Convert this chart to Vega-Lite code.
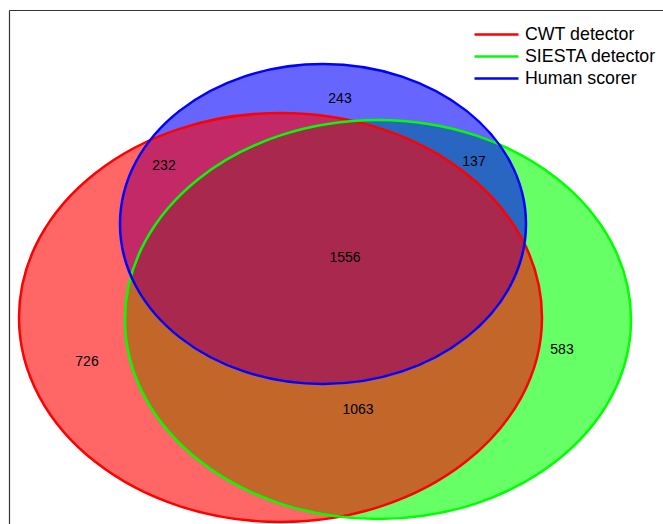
{
  "$schema": "https://vega.github.io/schema/vega-lite/v6.json",
  "width": 654,
  "height": 514,
  "autosize": {"type": "none"},
  "padding": {"left": 9, "top": 10, "right": 0, "bottom": 0},
  "background": "white",
  "view": {"stroke": null},
  "datasets": {
    "sets": [
      {"set": "CWT detector", "cx": 280.5, "cy": 317.5},
      {"set": "SIESTA detector", "cx": 378, "cy": 319.5},
      {"set": "Human scorer", "cx": 323, "cy": 224}
    ],
    "labels": [
      {"count": "243", "x": 340, "y": 99},
      {"count": "232", "x": 164, "y": 166},
      {"count": "137", "x": 474, "y": 162},
      {"count": "1556", "x": 345, "y": 258},
      {"count": "726", "x": 87, "y": 362},
      {"count": "583", "x": 562, "y": 350},
      {"count": "1063", "x": 358, "y": 410}
    ]
  },
  "config": {
    "font": "Liberation Sans",
    "legend": {
      "orient": "none",
      "legendX": 475,
      "legendY": 12,
      "title": null,
      "symbolType": "M -2 0 L 2 0",
      "symbolSize": 484,
      "symbolStrokeWidth": 2.5,
      "labelFont": "Liberation Sans",
      "labelFontSize": 17.8,
      "labelColor": "#000000",
      "labelOffset": 16,
      "rowPadding": 0
    }
  },
  "layer": [
    {
      "data": {"name": "sets"},
      "transform": [{"filter": "datum.set === 'SIESTA detector'"}],
      "mark": {
        "type": "point",
        "shape": "M -1 0 C -1 -0.4355 -0.5523 -0.7885 0 -0.7885 C 0.5523 -0.7885 1 -0.4355 1 0 C 1 0.4355 0.5523 0.7885 0 0.7885 C -0.5523 0.7885 -1 0.4355 -1 0 Z",
        "size": 256036,
        "filled": true,
        "fill": "#00ff00",
        "fillOpacity": 0.6,
        "opacity": 1,
        "strokeWidth": 0
      },
      "encoding": {
        "x": {"field": "cx", "type": "quantitative", "scale": {"domain": [9, 663], "nice": false, "zero": false}, "axis": {"orient": "top", "domain": true, "domainColor": "#333333", "domainWidth": 1.2, "ticks": false, "labels": false, "grid": false, "title": null}},
        "y": {"field": "cy", "type": "quantitative", "scale": {"domain": [10, 524], "nice": false, "zero": false, "reverse": true}, "axis": {"orient": "left", "domain": true, "domainColor": "#333333", "domainWidth": 1.2, "ticks": false, "labels": false, "grid": false, "title": null}}
      }
    },
    {
      "data": {"name": "sets"},
      "transform": [{"filter": "datum.set === 'Human scorer'"}],
      "mark": {
        "type": "point",
        "shape": "M -1 0 C -1 -0.4352 -0.5523 -0.788 0 -0.788 C 0.5523 -0.788 1 -0.4352 1 0 C 1 0.4352 0.5523 0.788 0 0.788 C -0.5523 0.788 -1 0.4352 -1 0 Z",
        "size": 164836,
        "filled": true,
        "fill": "#0000ff",
        "fillOpacity": 0.6,
        "opacity": 1,
        "strokeWidth": 0
      },
      "encoding": {
        "x": {"field": "cx", "type": "quantitative"},
        "y": {"field": "cy", "type": "quantitative"}
      }
    },
    {
      "data": {"name": "sets"},
      "transform": [{"filter": "datum.set === 'CWT detector'"}],
      "mark": {
        "type": "point",
        "shape": "M -1 0 C -1 -0.4319 -0.5523 -0.782 0 -0.782 C 0.5523 -0.782 1 -0.4319 1 0 C 1 0.4319 0.5523 0.782 0 0.782 C -0.5523 0.782 -1 0.4319 -1 0 Z",
        "size": 273529,
        "filled": true,
        "fill": "#ff0000",
        "fillOpacity": 0.6,
        "opacity": 1,
        "strokeWidth": 0
      },
      "encoding": {
        "x": {"field": "cx", "type": "quantitative"},
        "y": {"field": "cy", "type": "quantitative"}
      }
    },
    {
      "data": {"name": "sets"},
      "transform": [{"filter": "datum.set === 'CWT detector'"}],
      "mark": {
        "type": "point",
        "shape": "M -1 0 C -1 -0.4319 -0.5523 -0.782 0 -0.782 C 0.5523 -0.782 1 -0.4319 1 0 C 1 0.4319 0.5523 0.782 0 0.782 C -0.5523 0.782 -1 0.4319 -1 0 Z",
        "size": 273529,
        "filled": false,
        "opacity": 1,
        "strokeWidth": 2.5
      },
      "encoding": {
        "x": {"field": "cx", "type": "quantitative"},
        "y": {"field": "cy", "type": "quantitative"},
        "stroke": {"field": "set", "type": "nominal", "scale": {"domain": ["CWT detector", "SIESTA detector", "Human scorer"], "range": ["#ff0000", "#00ff00", "#0000ff"]}}
      }
    },
    {
      "data": {"name": "sets"},
      "transform": [{"filter": "datum.set === 'SIESTA detector'"}],
      "mark": {
        "type": "point",
        "shape": "M -1 0 C -1 -0.4355 -0.5523 -0.7885 0 -0.7885 C 0.5523 -0.7885 1 -0.4355 1 0 C 1 0.4355 0.5523 0.7885 0 0.7885 C -0.5523 0.7885 -1 0.4355 -1 0 Z",
        "size": 256036,
        "filled": false,
        "opacity": 1,
        "strokeWidth": 2.5
      },
      "encoding": {
        "x": {"field": "cx", "type": "quantitative"},
        "y": {"field": "cy", "type": "quantitative"},
        "stroke": {"field": "set", "type": "nominal"}
      }
    },
    {
      "data": {"name": "sets"},
      "transform": [{"filter": "datum.set === 'Human scorer'"}],
      "mark": {
        "type": "point",
        "shape": "M -1 0 C -1 -0.4352 -0.5523 -0.788 0 -0.788 C 0.5523 -0.788 1 -0.4352 1 0 C 1 0.4352 0.5523 0.788 0 0.788 C -0.5523 0.788 -1 0.4352 -1 0 Z",
        "size": 164836,
        "filled": false,
        "opacity": 1,
        "strokeWidth": 2.5
      },
      "encoding": {
        "x": {"field": "cx", "type": "quantitative"},
        "y": {"field": "cy", "type": "quantitative"},
        "stroke": {"field": "set", "type": "nominal"}
      }
    },
    {
      "data": {"name": "labels"},
      "mark": {"type": "text", "font": "Liberation Sans", "fontSize": 14, "color": "#000000", "align": "center", "baseline": "middle"},
      "encoding": {
        "x": {"field": "x", "type": "quantitative"},
        "y": {"field": "y", "type": "quantitative"},
        "text": {"field": "count", "type": "nominal"}
      }
    }
  ]
}
